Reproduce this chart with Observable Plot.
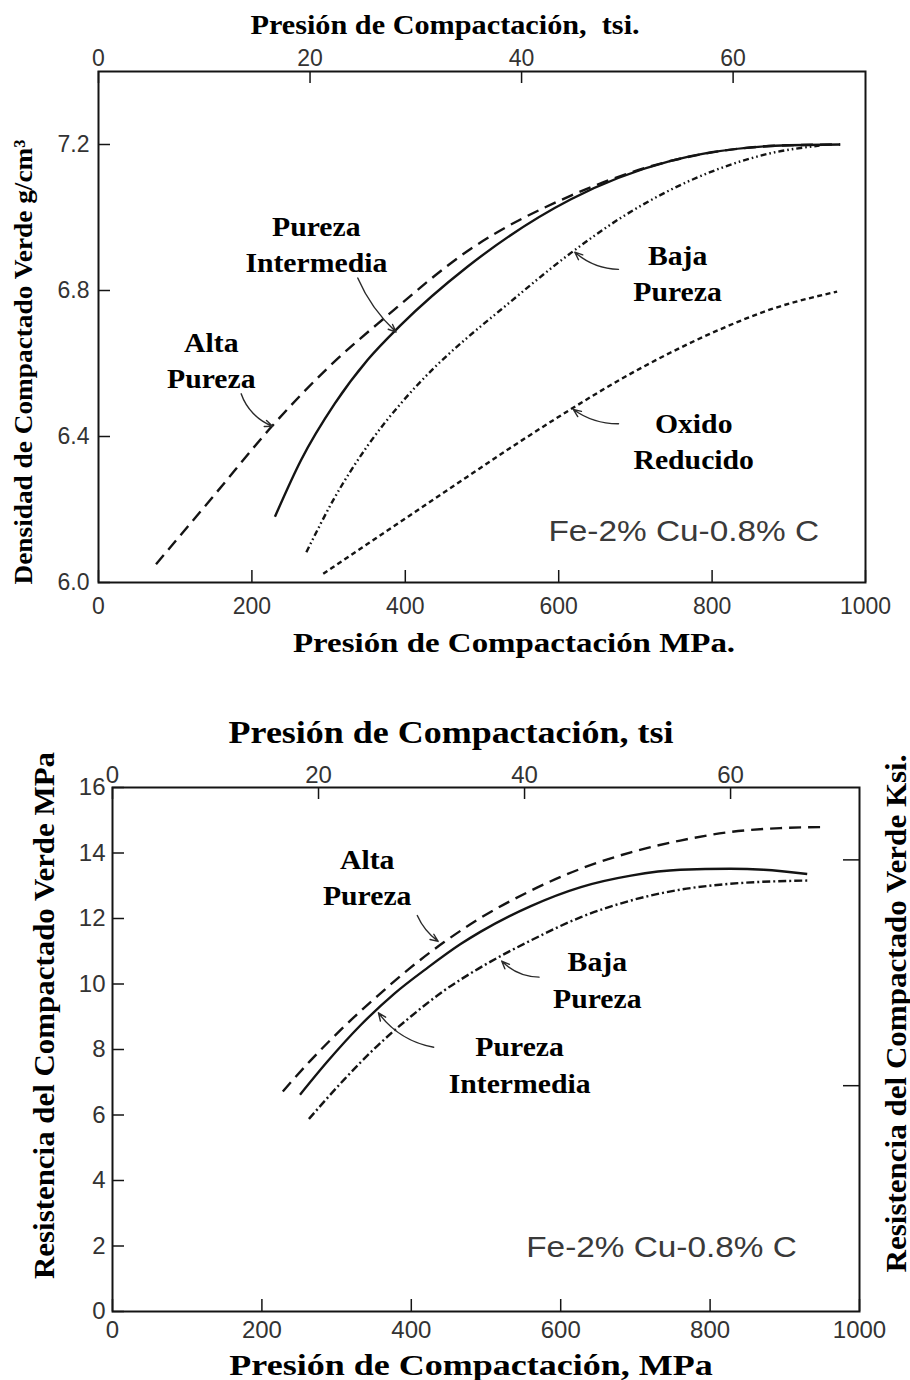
<!DOCTYPE html>
<html>
<head>
<meta charset="utf-8">
<script src="https://cdn.jsdelivr.net/npm/d3@7"></script>
<script src="https://cdn.jsdelivr.net/npm/@observablehq/plot@0.6"></script>
<style>
  html, body { margin: 0; padding: 0; background: #fff; overflow: hidden; }
  #chart svg { display: block; }
</style>
</head>
<body>
<div id="chart"></div>
<script>
// ---------------- DATA ----------------
const MPA_PER_TSI = 13.79;
const KSI_TO_MPA = 6.895;
const mpaTicks = [0, 200, 400, 600, 800, 1000];
const tsiTicks = [0, 20, 40, 60];
const densTicks = [6.0, 6.4, 6.8, 7.2];
const strTicks = [0, 2, 4, 6, 8, 10, 12, 14, 16];
const ksiTicks = [1, 2];

// Top chart: green density (g/cm3) vs compaction pressure (MPa)
const topAltaP = [75, 150, 227, 300, 373, 486, 616, 746, 900, 967];
const topAltaD = [6.05, 6.237, 6.43, 6.59, 6.725, 6.915, 7.06, 7.155, 7.198, 7.2];
const topInterP = [230, 264, 308, 351, 394, 481, 616, 746, 900, 967];
const topInterD = [6.18, 6.335, 6.49, 6.61, 6.705, 6.865, 7.05, 7.155, 7.198, 7.2];
const topBajaP = [271, 308, 351, 394, 438, 481, 525, 616, 681, 746, 811, 876, 940];
const topBajaD = [6.083, 6.233, 6.375, 6.49, 6.589, 6.671, 6.748, 6.903, 6.999, 7.076, 7.135, 7.176, 7.197];
const topOxidoP = [293, 351, 416, 481, 551, 616, 681, 746, 811, 876, 963];
const topOxidoD = [6.024, 6.106, 6.198, 6.29, 6.388, 6.475, 6.557, 6.63, 6.694, 6.748, 6.797];

// Bottom chart: green strength (MPa) vs compaction pressure (MPa)
const botAltaP = [228, 265, 310, 355, 399, 444, 490, 560, 627, 694, 760, 827, 894, 948];
const botAltaS = [6.72, 7.66, 8.70, 9.64, 10.50, 11.28, 11.98, 12.85, 13.52, 14.02, 14.38, 14.64, 14.76, 14.79];
const botInterP = [251, 288, 332, 377, 422, 466, 493, 560, 627, 694, 760, 827, 872, 930];
const botInterS = [6.62, 7.64, 8.74, 9.70, 10.50, 11.22, 11.60, 12.38, 12.96, 13.31, 13.49, 13.52, 13.49, 13.36];
const botBajaP = [263, 310, 355, 399, 444, 490, 560, 627, 694, 760, 827, 932];
const botBajaS = [5.88, 7.08, 8.12, 9.00, 9.80, 10.47, 11.33, 12.04, 12.55, 12.88, 13.06, 13.16];

// Annotations (data units)
const topLabels = [
  {p: 284, v: 6.924, t: "Pureza\nIntermedia"},
  {p: 147, v: 6.607, t: "Alta\nPureza"},
  {p: 755, v: 6.845, t: "Baja\nPureza"},
  {p: 776, v: 6.383, t: "Oxido\nReducido"}
];
const topArrows = [
  {name: "inter", p1: 338, v1: 6.834, p2: 388, v2: 6.686},
  {name: "alta", p1: 186, v1: 6.517, p2: 227, v2: 6.428},
  {name: "baja", p1: 678, v1: 6.858, p2: 621, v2: 6.905},
  {name: "oxido", p1: 678, v1: 6.435, p2: 619, v2: 6.474}
];
const topNote = [{p: 763, v: 6.139, t: "Fe-2% Cu-0.8% C"}];

const botLabels = [
  {p: 341, v: 13.22, t: "Alta\nPureza"},
  {p: 649, v: 10.09, t: "Baja\nPureza"},
  {p: 545, v: 7.50, t: "Pureza\nIntermedia"}
];
const botArrows = [
  {name: "alta", p1: 408, v1: 12.09, p2: 436, v2: 11.30},
  {name: "inter", p1: 430, v1: 8.07, p2: 356, v2: 9.12},
  {name: "baja", p1: 571, v1: 10.21, p2: 521, v2: 10.70}
];
const botNote = [{p: 735, v: 1.96, t: "Fe-2% Cu-0.8% C"}];

// ---------------- STYLE ----------------
const SANS = "'Liberation Sans', Arial, Helvetica, sans-serif";
const SERIF = "'Liberation Serif', 'Times New Roman', serif";
const INK = "#141414";
const W = 910;
const TICK = 12;
const dashes = {
  alta: "12,7",
  inter: null,
  bajaTop: "6,3,1.6,3,1.6,3",
  bajaBot: "8,3,2,3",
  oxido: "5,3.5"
};
const bendTop = {inter: -12, alta: -25, baja: 20, oxido: 18};
const bendBot = {alta: -15, inter: 22, baja: 22};

const toRows = (P, V) => P.map((p, i) => ({p, v: V[i]}));
const tsiMPa = tsiTicks.map(t => t * MPA_PER_TSI);
const ksiMPa = ksiTicks.map(k => k * KSI_TO_MPA);

function lineMark(rows, dash) {
  return Plot.line(rows, {x: "p", y: "v", curve: "monotone-x", stroke: INK, strokeWidth: 2.4,
    strokeDasharray: dash || undefined, strokeLinecap: "butt"});
}
function arrowMarks(arr, bends) {
  return arr.map(a => Plot.arrow([a], {x1: "p1", y1: "v1", x2: "p2", y2: "v2", bend: bends[a.name],
    stroke: "#2a2a2a", strokeWidth: 1.4, headLength: 9, headAngle: 45}));
}
function labelMarks(arr, gap) {
  const base = {x: "p", y: "v", fontFamily: SERIF, fontWeight: "bold", fontSize: 27,
    fill: "#000", lineAnchor: "middle", ariaDescription: "stretch:1.1"};
  return [
    Plot.text(arr, {...base, text: d => d.t.split("\n")[0], dy: -gap / 2}),
    Plot.text(arr, {...base, text: d => d.t.split("\n")[1], dy: gap / 2})
  ];
}
function noteMark(arr) {
  return Plot.text(arr, {x: "p", y: "v", text: "t", fontFamily: SANS, fontSize: 29, fill: "#3a3a3a",
    lineAnchor: "middle", ariaDescription: "stretch:1.15"});
}
function titleMark(txt, o, f) {
  return Plot.text([txt], {text: d => d, fontFamily: SERIF, fontWeight: "bold", fill: "#000",
    lineAnchor: "middle", textAnchor: "middle", ariaDescription: "stretch:" + f, ...o});
}
function stretch(svg) {
  svg.querySelectorAll('[aria-description^="stretch:"]').forEach(g => {
    const f = +g.getAttribute("aria-description").split(":")[1];
    const texts = g.tagName.toLowerCase() === "text" ? [g] : g.querySelectorAll("text");
    texts.forEach(t => {
      const L = t.getComputedTextLength();
      if (L > 0) {
        t.setAttribute("textLength", (L * f).toFixed(1));
        t.setAttribute("lengthAdjust", "spacingAndGlyphs");
      }
    });
  });
}

// ---------------- TOP CHART ----------------
const H1 = 680, mL1 = 98, mR1 = 45, mT1 = 71, mB1 = 98;
const iW1 = W - mL1 - mR1, iH1 = H1 - mT1 - mB1;
const topChart = Plot.plot({
  width: W, height: H1,
  marginLeft: mL1, marginRight: mR1, marginTop: mT1, marginBottom: mB1,
  x: {domain: [0, 1000]},
  y: {domain: [6.0, 7.4]},
  style: {background: "#fff", fontFamily: SANS, overflow: "visible"},
  marks: [
    Plot.tickX(mpaTicks, {x: d => d, insetTop: iH1 - TICK, stroke: INK, strokeWidth: 1.5}),
    Plot.tickX(tsiMPa, {x: d => d, insetBottom: iH1 - TICK, stroke: INK, strokeWidth: 1.5}),
    Plot.tickY(densTicks, {y: d => d, insetRight: iW1 - TICK, stroke: INK, strokeWidth: 1.5}),
    Plot.axisX(mpaTicks, {anchor: "bottom", tickSize: 0, tickPadding: 15, fontSize: 23, color: "#333", label: null,
      tickFormat: d3.format("d")}),
    Plot.axisX(tsiMPa, {anchor: "top", tickSize: 0, tickPadding: 6, fontSize: 23, color: "#333", label: null,
      tickFormat: d => String(tsiTicks[tsiMPa.indexOf(d)])}),
    Plot.axisY(densTicks, {anchor: "left", tickSize: 0, tickPadding: 9, fontSize: 23, color: "#333", label: null,
      tickFormat: d3.format(".1f")}),
    lineMark(toRows(topAltaP, topAltaD), dashes.alta),
    lineMark(toRows(topInterP, topInterD), dashes.inter),
    lineMark(toRows(topBajaP, topBajaD), dashes.bajaTop),
    lineMark(toRows(topOxidoP, topOxidoD), dashes.oxido),
    ...arrowMarks(topArrows, bendTop),
    ...labelMarks(topLabels, 36),
    noteMark(topNote),
    titleMark("Presión de Compactación,\u00a0 tsi.", {frameAnchor: "top", dx: -37, dy: -46, fontSize: 27}, 1.12),
    titleMark("Presión de Compactación MPa.", {frameAnchor: "bottom", dx: 32, dy: 61, fontSize: 27}, 1.22),
    titleMark("Densidad de Compactado Verde g/cm³", {frameAnchor: "left", rotate: -90, dx: -75, dy: 35, fontSize: 26}, 1.05),
    Plot.frame({stroke: INK, strokeWidth: 2})
  ]
});

// ---------------- BOTTOM CHART ----------------
const H2 = 700, mL2 = 112, mR2 = 51, mT2 = 107, mB2 = 69;
const iW2 = W - mL2 - mR2, iH2 = H2 - mT2 - mB2;
const botChart = Plot.plot({
  width: W, height: H2,
  marginLeft: mL2, marginRight: mR2, marginTop: mT2, marginBottom: mB2,
  x: {domain: [0, 1000]},
  y: {domain: [0, 16]},
  style: {background: "#fff", fontFamily: SANS, overflow: "visible"},
  marks: [
    Plot.tickX(mpaTicks, {x: d => d, insetTop: iH2 - TICK, stroke: INK, strokeWidth: 1.5}),
    Plot.tickX(tsiMPa, {x: d => d, insetBottom: iH2 - TICK, stroke: INK, strokeWidth: 1.5}),
    Plot.tickY(strTicks, {y: d => d, insetRight: iW2 - TICK, stroke: INK, strokeWidth: 1.5}),
    Plot.tickY(ksiMPa, {y: d => d, insetLeft: iW2 - TICK - 4, stroke: INK, strokeWidth: 1.5}),
    Plot.axisX(mpaTicks, {anchor: "bottom", tickSize: 0, tickPadding: 9, fontSize: 24, color: "#333", label: null,
      tickFormat: d3.format("d")}),
    Plot.axisX(tsiMPa, {anchor: "top", tickSize: 0, tickPadding: 5, fontSize: 24, color: "#333", label: null,
      tickFormat: d => String(tsiTicks[tsiMPa.indexOf(d)])}),
    Plot.axisY(strTicks, {anchor: "left", tickSize: 0, tickPadding: 7, fontSize: 24, color: "#333", label: null}),
    lineMark(toRows(botAltaP, botAltaS), dashes.alta),
    lineMark(toRows(botInterP, botInterS), dashes.inter),
    lineMark(toRows(botBajaP, botBajaS), dashes.bajaBot),
    ...arrowMarks(botArrows, bendBot),
    ...labelMarks(botLabels, 36.5),
    noteMark(botNote),
    titleMark("Presión de Compactación, tsi", {frameAnchor: "top", dx: -35, dy: -54, fontSize: 31}, 1.16),
    titleMark("Presión de Compactación, MPa", {frameAnchor: "bottom", dx: -15, dy: 54, fontSize: 30}, 1.2),
    titleMark("Resistencia del Compactado Verde MPa", {frameAnchor: "left", rotate: -90, dx: -68, dy: -34, fontSize: 30}, 1.03),
    titleMark("Resistencia del Compactado Verde Ksi.", {frameAnchor: "right", rotate: -90, dx: 37, dy: -36, fontSize: 29}, 1.07),
    Plot.frame({stroke: INK, strokeWidth: 2})
  ]
});

const root = document.getElementById("chart");
root.append(topChart, botChart);
stretch(topChart);
stretch(botChart);
</script>
</body>
</html>
